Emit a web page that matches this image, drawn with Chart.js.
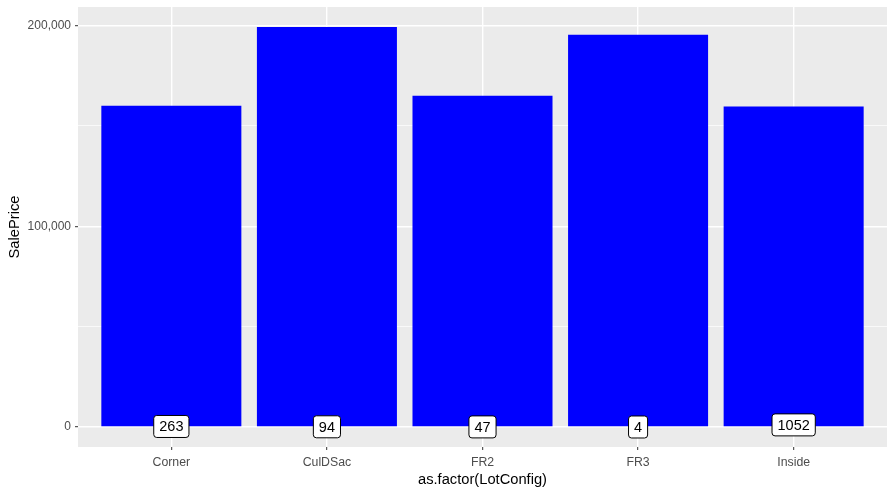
<!DOCTYPE html>
<html>
<head>
<meta charset="utf-8">
<script src="https://cdn.jsdelivr.net/npm/chart.js@4"></script>
<style>
  body { margin: 0; background: #fff; }
  canvas { display: block; }
</style>
</head>
<body>
<canvas id="grafico" width="896" height="494"></canvas>
<script>
// Dados
const categorias = ['Corner', 'CulDSac', 'FR2', 'FR3', 'Inside'];
const precoMediano = [160000, 199262, 165000, 195450, 159698];
const contagem = [263, 94, 47, 4, 1052];
const ticksY = [0, 50000, 100000, 150000, 200000];
const ticksPrincipaisY = [0, 100000, 200000];

const fonte = "'Liberation Sans', Arial, sans-serif";

// Fundo cinza do painel
const fundoPainel = {
  id: 'fundoPainel',
  beforeDraw: (chart) => {
    const { ctx, chartArea: a } = chart;
    ctx.save();
    ctx.fillStyle = '#EBEBEB';
    ctx.fillRect(a.left, a.top, a.right - a.left, a.bottom - a.top);
    ctx.restore();
  }
};

// Rótulos com a contagem (caixa branca arredondada)
const rotulosContagem = {
  id: 'rotulosContagem',
  afterDatasetsDraw: (chart) => {
    const { ctx, scales } = chart;
    ctx.save();
    ctx.font = '14.5px ' + fonte;
    ctx.textAlign = 'center';
    ctx.textBaseline = 'middle';
    contagem.forEach((n, i) => {
      const x = scales.x.getPixelForValue(i);
      const y = scales.y.getPixelForValue(n);
      const texto = String(n);
      const w = ctx.measureText(texto).width + 11;
      const h = 22;
      ctx.beginPath();
      ctx.roundRect(x - w / 2, y - h / 2, w, h, 3);
      ctx.fillStyle = '#FFFFFF';
      ctx.fill();
      ctx.lineWidth = 1;
      ctx.strokeStyle = '#000000';
      ctx.stroke();
      ctx.fillStyle = '#000000';
      ctx.fillText(texto, x, y + 1);
    });
    ctx.restore();
  }
};

const ehPrincipal = (v) => ticksPrincipaisY.includes(v);

const ctx = document.getElementById('grafico').getContext('2d');
const chart = new Chart(ctx, {
  type: 'bar',
  data: {
    datasets: [{
      label: 'SalePrice',
      data: precoMediano.map((v, i) => ({ x: i, y: v })),
      backgroundColor: '#0000FF',
      borderWidth: 0,
      categoryPercentage: 1,
      barPercentage: 0.9
    }]
  },
  options: {
    responsive: false,
    devicePixelRatio: 1,
    animation: false,
    layout: { padding: { top: 7, right: 9, left: 0, bottom: 0 } },
    plugins: { legend: { display: false }, tooltip: { enabled: false } },
    scales: {
      x: {
        type: 'linear',
        min: -0.6,
        max: 4.6,
        offset: false,
        afterBuildTicks: (s) => { s.ticks = categorias.map((c, i) => ({ value: i })); },
        afterFit: (s) => { s.height = 47; s.paddingLeft = 0; s.paddingRight = 0; },
        border: { display: false },
        grid: {
          offset: false,
          color: '#FFFFFF',
          lineWidth: 1.4,
          tickColor: '#333333',
          tickLength: 3,
          tickWidth: 1
        },
        ticks: {
          autoSkip: false,
          maxRotation: 0,
          padding: 5,
          color: '#4D4D4D',
          font: { family: fonte, size: 12.3 },
          callback: (v) => categorias[v]
        },
        title: {
          display: true,
          text: 'as.factor(LotConfig)',
          color: '#000000',
          font: { family: fonte, size: 14.7 },
          padding: { top: 0, bottom: 5 }
        }
      },
      y: {
        min: -9963,
        max: 209225,
        afterBuildTicks: (s) => { s.ticks = ticksY.map((v) => ({ value: v })); },
        afterFit: (s) => { s.width = 78; s.paddingTop = 0; s.paddingBottom = 0; },
        border: { display: false },
        grid: {
          color: '#FFFFFF',
          lineWidth: (c) => (ehPrincipal(c.tick.value) ? 1.4 : 0.7),
          tickColor: (c) => (ehPrincipal(c.tick.value) ? '#333333' : 'rgba(0,0,0,0)'),
          tickLength: 3,
          tickWidth: 1
        },
        ticks: {
          autoSkip: false,
          padding: 4,
          color: '#4D4D4D',
          font: { family: fonte, size: 12 },
          callback: (v) => (ehPrincipal(v) ? v.toLocaleString('en-US') : '')
        },
        title: {
          display: true,
          text: 'SalePrice',
          color: '#000000',
          font: { family: fonte, size: 14.7 },
          padding: { top: 6, bottom: 0 }
        }
      }
    }
  },
  plugins: [fundoPainel, rotulosContagem]
});
</script>
</body>
</html>
